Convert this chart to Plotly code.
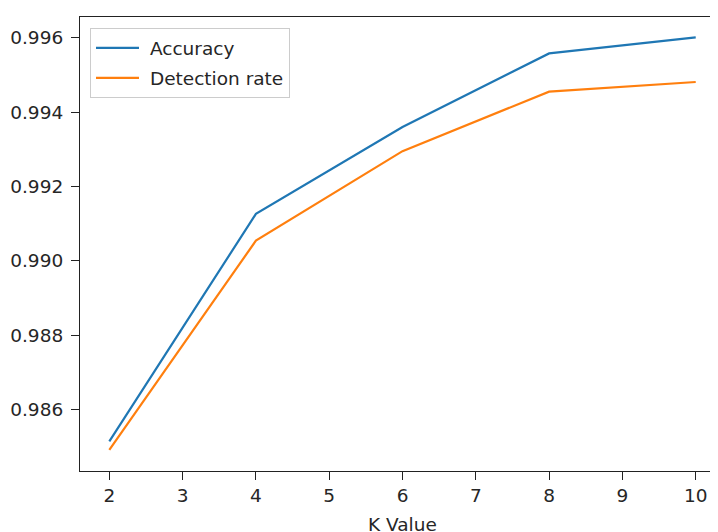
import plotly.graph_objects as go

k_values = [2, 4, 6, 8, 10]
accuracy = [0.98514, 0.99126, 0.99360, 0.99558, 0.99601]
detection_rate = [0.98491, 0.99054, 0.99295, 0.99455, 0.99481]
x_ticks = [2, 3, 4, 5, 6, 7, 8, 9, 10]
y_ticks = [0.986, 0.988, 0.990, 0.992, 0.994, 0.996]
series_names = ["Accuracy", "Detection rate"]

FONT = "DejaVu Sans"
TXT = "#262626"
FS = 18.5

fig = go.Figure()
fig.add_trace(go.Scatter(x=k_values, y=accuracy, mode="lines", name=" " + series_names[0],
                         legendgroup="a",
                         line=dict(color="#1f77b4", width=2.2)))
fig.add_trace(go.Scatter(x=k_values, y=detection_rate, mode="lines", name=" " + series_names[1],
                         legendgroup="b",
                         line=dict(color="#ff7f0e", width=2.2)))

fig.update_layout(
    width=710, height=524,
    margin=dict(l=72, r=0, t=9, b=61),
    paper_bgcolor="white", plot_bgcolor="white",
    font=dict(family=FONT, size=FS, color=TXT),
    showlegend=True,
    legend=dict(x=(90.0 - 80) / 638, y=1 - (28.3 - 17) / 454, xanchor="left", yanchor="top",
                bgcolor="rgba(255,255,255,0.8)", bordercolor="#cccccc", borderwidth=1,
                itemwidth=43, tracegroupgap=3,
                font=dict(family=FONT, size=FS, color=TXT)),
    xaxis=dict(range=[1.6, 1.6 + 638 / 73.3], tickmode="array", tickvals=x_ticks,
               ticktext=[str(v) for v in x_ticks],
               showgrid=False, zeroline=False, showline=True, linecolor="#222", linewidth=1.2,
               mirror=True, ticks="outside", ticklen=8, tickwidth=1.2, tickcolor="#222",
               tickfont=dict(family=FONT, size=FS, color=TXT)),
    yaxis=dict(range=[0.98434, 0.99656], tickmode="array", tickvals=y_ticks,
               ticktext=[f"{v:.3f}" for v in y_ticks],
               showgrid=False, zeroline=False, showline=True, linecolor="#222", linewidth=1.2,
               ticks="outside", ticklen=8, tickwidth=1.2, tickcolor="#222",
               ticklabelstandoff=4,
               tickfont=dict(family=FONT, size=FS, color=TXT)),
)
fig.add_annotation(text="K Value", xref="x", x=6, yref="paper", y=0, yshift=-53,
                   showarrow=False, xanchor="center", yanchor="middle",
                   font=dict(family=FONT, size=FS, color=TXT))

fig.write_html("out.html")
